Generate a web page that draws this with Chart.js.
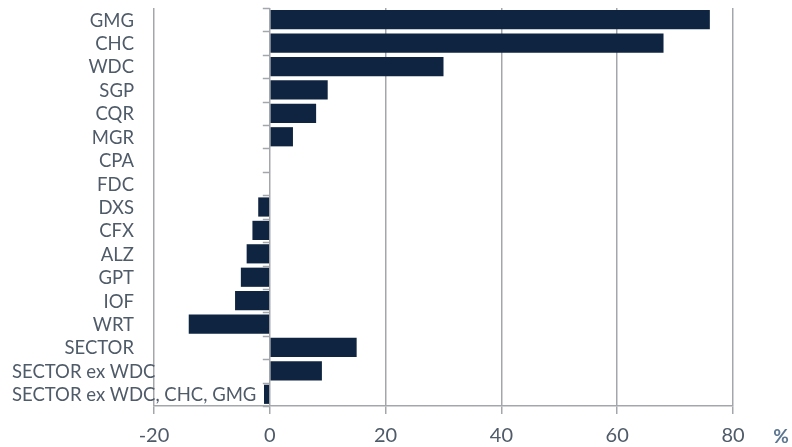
<!DOCTYPE html>
<html>
<head>
<meta charset="utf-8">
<script src="https://cdn.jsdelivr.net/npm/chart.js@4.4.1/dist/chart.umd.min.js"></script>
<style>
    html, body { margin: 0; padding: 0; background: #ffffff; }
    #wrap { width: 792px; height: 447px; position: relative; }
</style>
</head>
<body>
<div id="wrap"><canvas id="chart"></canvas></div>
<script>
// Dados do gráfico
const categories = ['GMG', 'CHC', 'WDC', 'SGP', 'CQR', 'MGR', 'CPA', 'FDC', 'DXS', 'CFX', 'ALZ', 'GPT', 'IOF', 'WRT', 'SECTOR', 'SECTOR ex WDC', 'SECTOR ex WDC, CHC, GMG'];
const values = [76, 68, 30, 10, 8, 4, 0, 0, -2, -3, -4, -5, -6, -14, 15, 9, -1];
const xTicks = [-20, 0, 20, 40, 60, 80];
const unitLabel = '%';

const textColor = '#4f5b68';
const gridColor = '#a3a7ac';
const barColor = '#0f2440';
const fontFamily = 'Lato, "Open Sans", sans-serif';

// Rótulos das categorias + marcas no eixo zero
const categoryLabels = {
    id: 'categoryLabels',
    afterDraw(chart) {
        const { ctx, chartArea, scales } = chart;
        const y = scales.y;
        const x = scales.x;
        const step = y.getPixelForValue(1) - y.getPixelForValue(0);
        const zeroX = x.getPixelForValue(0);

        ctx.save();
        // marcas pequenas à esquerda do eixo zero
        ctx.strokeStyle = gridColor;
        ctx.lineWidth = 1.5;
        for (let i = 0; i <= categories.length; i++) {
            const py = Math.round(y.getPixelForValue(i) - step / 2) + 0.5;
            ctx.beginPath();
            ctx.moveTo(zeroX - 7, py);
            ctx.lineTo(zeroX, py);
            ctx.stroke();
        }

        ctx.font = '18.5px ' + fontFamily;
        ctx.fillStyle = textColor;
        ctx.textAlign = 'left';
        ctx.textBaseline = 'middle';
        const rightEdge = chartArea.left - 20;
        categories.forEach((label, i) => {
            const w = ctx.measureText(label).width;
            const left = Math.max(12, rightEdge - w);
            ctx.fillText(label, left, y.getPixelForValue(i) + 1);
        });

        ctx.font = 'bold 19px ' + fontFamily;
        ctx.fillStyle = '#5d7692';
        ctx.textAlign = 'center';
        ctx.fillText(unitLabel, chartArea.right + 48, chartArea.bottom + 31);
        ctx.restore();
    }
};

new Chart(document.getElementById('chart'), {
    type: 'bar',
    data: {
        labels: categories,
        datasets: [{
            data: values,
            backgroundColor: barColor,
            borderWidth: 0,
            categoryPercentage: 1,
            barPercentage: 0.82
        }]
    },
    options: {
        indexAxis: 'y',
        responsive: true,
        maintainAspectRatio: false,
        animation: false,
        layout: { padding: { left: 154, right: 59, top: 8, bottom: 0 } },
        plugins: {
            legend: { display: false },
            tooltip: { enabled: false }
        },
        scales: {
            x: {
                min: -20,
                max: 80,
                afterBuildTicks(scale) {
                    scale.ticks = xTicks.map(v => ({ value: v }));
                },
                afterFit(scale) {
                    scale.height = 41;
                },
                grid: { color: gridColor, lineWidth: 1.5, tickLength: 8 },
                border: { display: true, color: gridColor, width: 1.5 },
                ticks: {
                    color: textColor,
                    padding: 12,
                    maxRotation: 0,
                    font: { family: fontFamily, size: 20, lineHeight: 1 }
                }
            },
            y: {
                display: false
            }
        }
    },
    plugins: [categoryLabels]
});
</script>
</body>
</html>
